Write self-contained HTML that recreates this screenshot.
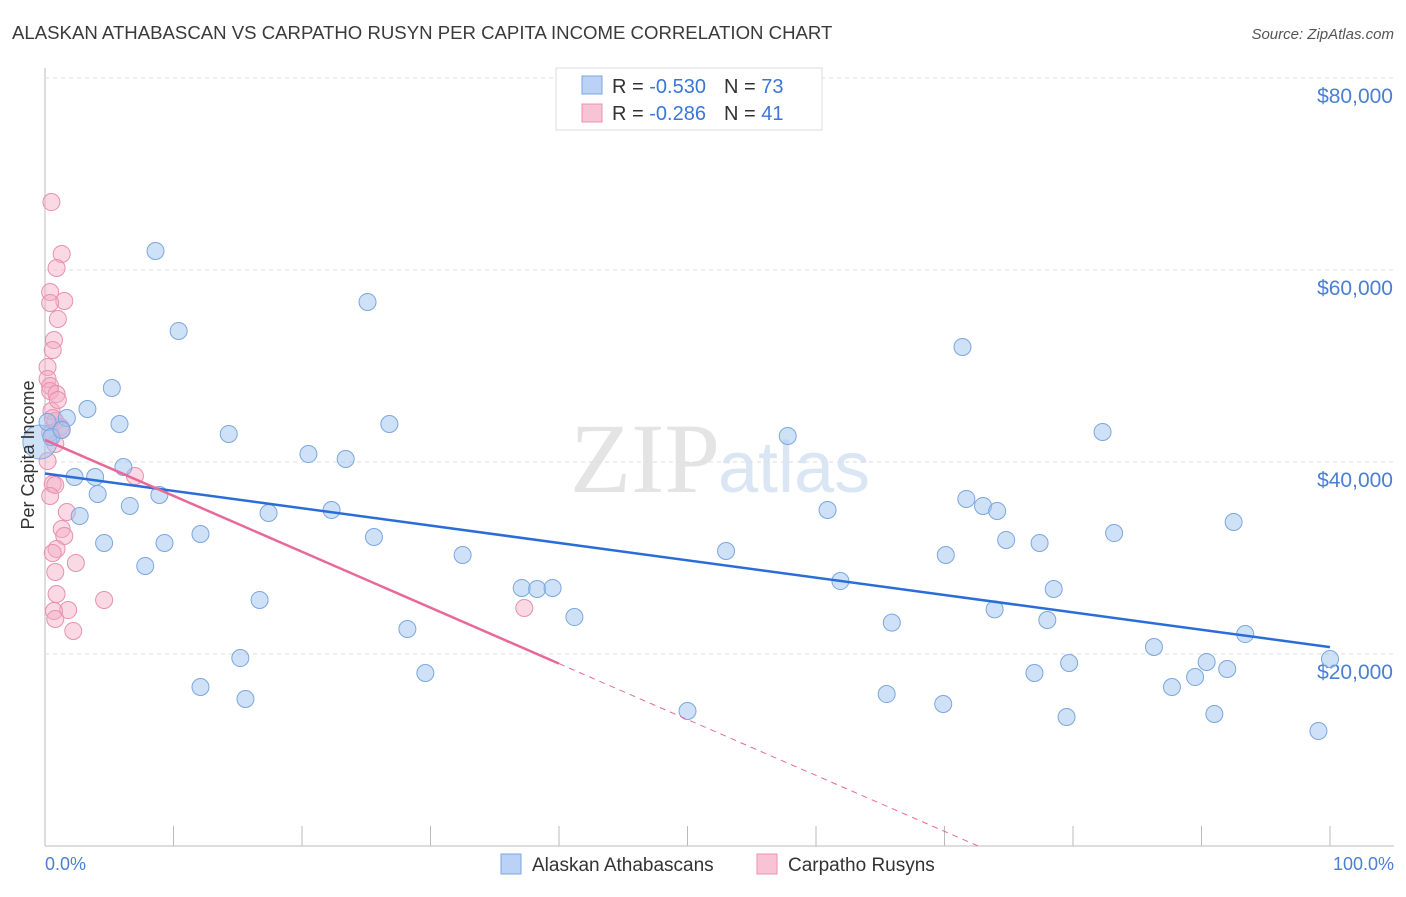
<!DOCTYPE html>
<html><head><meta charset="utf-8"><style>
body{margin:0;background:#fff;font-family:"Liberation Sans",sans-serif;overflow:hidden;}
</style></head><body>
<svg id="c" width="1406" height="892" xmlns="http://www.w3.org/2000/svg">
<text x="12" y="39" font-size="18.6" fill="#3a3a3a">ALASKAN ATHABASCAN VS CARPATHO RUSYN PER CAPITA INCOME CORRELATION CHART</text>
<text x="1394" y="39" font-size="15" fill="#555" text-anchor="end" font-style="italic">Source: ZipAtlas.com</text>
<text x="720" y="492" font-size="100" fill="#e4e4e4" text-anchor="end" font-family="Liberation Serif">ZIP</text>
<text x="718" y="492" font-size="72" fill="#dbe6f5">atlas</text>
<g id="grid"></g><g id="pts"></g><g id="lines"></g>
<text x="34" y="455" font-size="18" fill="#333" text-anchor="middle" transform="rotate(-90 34 455)">Per Capita Income</text>
<text x="45" y="870" font-size="18" fill="#4a7fd4">0.0%</text>
<text x="1394" y="870" font-size="18" fill="#4a7fd4" text-anchor="end">100.0%</text>
<g>
<rect x="556" y="68" width="266" height="62" fill="#fff" stroke="#ddd"/>
<rect x="582" y="76" width="20" height="18" fill="#b9d2f5" stroke="#7aa7e0"/>
<rect x="582" y="104" width="20" height="18" fill="#f8c3d4" stroke="#e890b0"/>
<text x="612" y="93" font-size="20" fill="#333">R = <tspan fill="#3b76d6">-0.530</tspan><tspan dx="18">N = </tspan><tspan fill="#3b76d6">73</tspan></text>
<text x="612" y="120" font-size="20" fill="#333">R = <tspan fill="#3b76d6"> -0.286</tspan><tspan dx="18">N = </tspan><tspan fill="#3b76d6"> 41</tspan></text>
</g>
<g>
<rect x="501" y="854" width="20" height="20" fill="#b9d2f5" stroke="#7aa7e0"/>
<text x="532" y="871" font-size="19" fill="#333">Alaskan Athabascans</text>
<rect x="757" y="854" width="20" height="20" fill="#f8c3d4" stroke="#e890b0"/>
<text x="788" y="871" font-size="19" fill="#333">Carpatho Rusyns</text>
</g>
</svg>
<script>
const yTicks=[20000,40000,60000,80000];
const yTickLabels=["$20,000","$40,000","$60,000","$80,000"];
const blueX=[8.6,10.4,25.1,71.4,5.2,3.3,1.7,5.8,14.3,26.8,57.8,82.3,20.5,23.4,6.1,2.3,3.9,4.1,8.9,6.6,2.7,17.4,22.3,71.7,73,74.1,60.9,92.5,12.1,25.6,4.6,9.3,74.8,77.4,83.2,32.5,53,70.1,7.8,61.9,37.1,38.3,39.5,78.5,16.7,41.2,73.9,65.9,78,28.2,93.4,15.2,86.3,100,79.7,90.4,92,29.6,77,12.1,89.5,87.7,15.6,65.5,69.9,50,79.5,91,99.1,-0.4,0.2,0.5,1.3];
const blueY=[61980,53650,56670,51980,47710,45520,44580,43960,42920,43960,42710,43130,40830,40310,39480,38440,38440,36670,36560,35420,34380,34690,35000,36150,35420,34900,35000,33750,32500,32190,31560,31560,31880,31560,32600,30310,30730,30310,29170,27600,26880,26770,26880,26770,25630,23850,24650,23270,23540,22600,22080,19580,20730,19480,19060,19170,18440,18020,18020,16560,17600,16560,15310,15830,14790,14060,13440,13750,11980,42080,44170,42600,43330];
const pinkX=[0.5,1.3,0.9,0.4,1.5,1,0.4,0.7,0.6,0.2,0.2,0.4,0.4,0.9,0.5,0.8,0.8,0.4,1.2,7,0.6,0.8,0.4,1.7,1.3,1.5,0.9,0.6,2.4,0.8,0.9,4.6,1.8,0.7,0.8,2.2,37.3,1.3,0.2,0.6,1];
const pinkY=[67080,61670,60210,57710,56770,54900,56560,52710,51670,49900,48650,47920,47400,47080,45310,44270,41880,43020,43650,38540,37710,37600,36460,34790,33020,32290,30940,30520,29480,28540,26250,25630,24580,24480,23650,22400,24790,43440,40100,44580,46460];
const trendB=[38800,-18080], trendP=[42300,-58250];
const X=v=>45+v/100*1285, Y=v=>846-v/20000*192;
const ns="http://www.w3.org/2000/svg";
function mk(t,a,p){const e=document.createElementNS(ns,t);for(const k in a)e.setAttribute(k,a[k]);p.appendChild(e);return e;}
const g=document.getElementById('grid');
mk('line',{x1:45,y1:68,x2:45,y2:846,stroke:'#bbb'},g);
mk('line',{x1:45,y1:846,x2:1394,y2:846,stroke:'#bbb'},g);
for(let i=0;i<=10;i++){const l=mk('line',{x1:45+i*128.5,y1:826,x2:45+i*128.5,y2:846,stroke:'#bbb'},g);

}
yTicks.forEach((t,i)=>{const l=mk('line',{x1:45,y1:Y(t),x2:1394,y2:Y(t),stroke:'#ddd','stroke-dasharray':'4,4'},g);


const tx=mk('text',{x:1393,y:Y(t)+25,'font-size':21,fill:'#4a7fd4','text-anchor':'end'},g);tx.textContent=yTickLabels[i];

});
const p=document.getElementById('pts');
pinkX.forEach((x,i)=>{const c=mk('circle',{cx:X(x),cy:Y(pinkY[i]),r:8.5,fill:'rgba(245,170,195,0.45)',stroke:'#e890b0','stroke-width':1},p);

});
blueX.forEach((x,i)=>{const c=mk('circle',{cx:X(x),cy:Y(blueY[i]),r:i==69?17:8.5,fill:'rgba(160,195,240,0.5)',stroke:'#7aa7e0','stroke-width':1},p);

});
const L=document.getElementById('lines');
const bl=mk('line',{x1:X(0),y1:Y(trendB[0]),x2:X(100),y2:Y(trendB[0]+trendB[1]),stroke:'#2a6dd8','stroke-width':2.5},L);


const pe=40;
const pl=mk('line',{x1:X(0),y1:Y(trendP[0]),x2:X(pe),y2:Y(trendP[0]+trendP[1]*pe/100),stroke:'#e8689a','stroke-width':2.5},L);


const xe=trendP[0]/-trendP[1]*100;
const pd=mk('line',{x1:X(pe),y1:Y(trendP[0]+trendP[1]*pe/100),x2:X(xe),y2:Y(0),stroke:'#e8689a','stroke-width':1,'stroke-dasharray':'6,5'},L);


</script>
</body></html>
